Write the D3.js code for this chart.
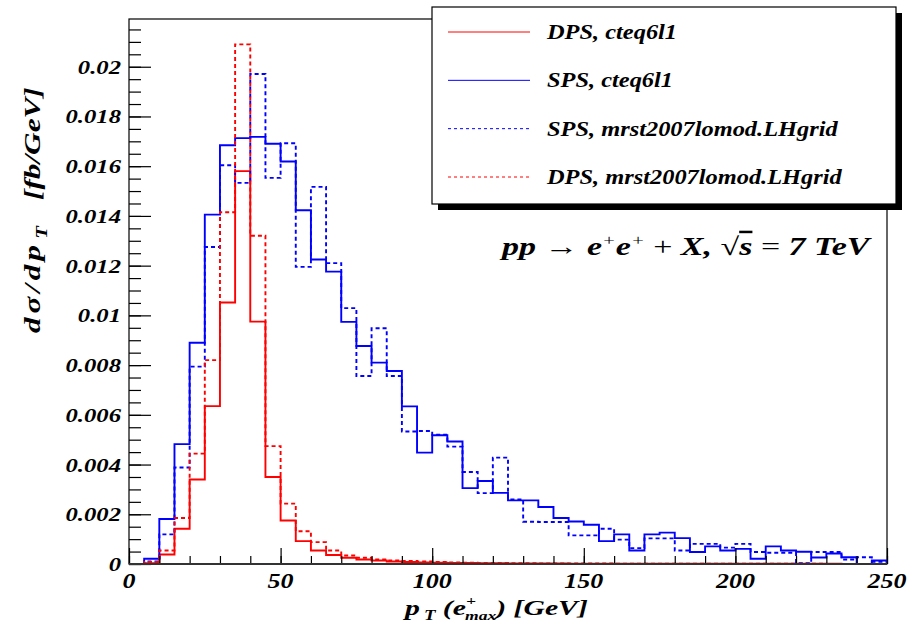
<!DOCTYPE html>
<html>
<head>
<meta charset="utf-8">
<script src="https://cdn.jsdelivr.net/npm/d3@7"></script>
<style>
  body { margin: 0; background: #fff; }
  text { font-family: "Liberation Serif", "DejaVu Serif", serif; font-weight: bold; font-style: italic; fill: #000; }
</style>
</head>
<body>
<div id="chart"></div>
<script>
// bin low edges [GeV], 5 GeV wide
const binLow = [0, 5, 10, 15, 20, 25, 30, 35, 40, 45, 50, 55, 60, 65, 70, 75, 80, 85, 90, 95,
  100, 105, 110, 115, 120, 125, 130, 135, 140, 145, 150, 155, 160, 165, 170, 175, 180, 185, 190, 195,
  200, 205, 210, 215, 220, 225, 230, 235, 240, 245];
const binWidth = 5;

const dpsCteq = [0, 0.00003, 0.00038, 0.00142, 0.0034, 0.00635, 0.01052, 0.0158, 0.00975, 0.0035,
  0.00175, 0.00092, 0.00054, 0.00036, 0.00025, 0.00018, 0.00014, 0.0001, 0.00008, 0.00006,
  0.00005, 0.00004, 0.00004, 0.00003, 0.00003, 0.00002, 0.00002, 0.00002, 0.00002, 0.00001,
  0.00001, 0.00001, 0.00001, 0.00001, 0.00001, 0.00001, 0.00001, 0.00001, 0.00001, 0.00001,
  0.00001, 0.00001, 0.00001, 0.00001, 0.00001, 0.00001, 0.00001, 0, 0, 0];

const spsCteq = [0, 0.00021, 0.00181, 0.00482, 0.0089, 0.01405, 0.01684, 0.01713, 0.01718, 0.0169,
  0.01619, 0.01423, 0.01225, 0.01176, 0.00974, 0.00877, 0.0081, 0.00776, 0.00634, 0.00448,
  0.00518, 0.00493, 0.00305, 0.00334, 0.00286, 0.00256, 0.00256, 0.00229, 0.00185, 0.00171,
  0.00158, 0.00092, 0.00119, 0.00054, 0.00119, 0.00126, 0.00104, 0.00048, 0.00071, 0.00054,
  0.00061, 0.00021, 0.00071, 0.00054, 0.00049, 0.00026, 0.00042, 0.00027, 0, 0.00014];

const spsMrst = [0, 0.0001, 0.00119, 0.00388, 0.00794, 0.01275, 0.01604, 0.01533, 0.01971, 0.01553,
  0.01692, 0.01195, 0.01517, 0.0121, 0.01029, 0.00756, 0.00948, 0.00756, 0.00533, 0.00535,
  0.0052, 0.00472, 0.0037, 0.00285, 0.00428, 0.0026, 0.0017, 0.00169, 0.00169, 0.00115,
  0.00115, 0.00142, 0.00098, 0.00064, 0.00103, 0.00103, 0.00054, 0.00081, 0.00081, 0.00066,
  0.00081, 0.00048, 0.00045, 0.00045, 0.00003, 0.00048, 0.00048, 0.00018, 0.00027, 0.00009];

const dpsMrst = [0, 0.00008, 0.00054, 0.00185, 0.00444, 0.0082, 0.01415, 0.0209, 0.0132, 0.00474,
  0.00243, 0.00132, 0.00088, 0.00054, 0.00034, 0.00025, 0.00018, 0.00014, 0.00012, 0.0001,
  0.00008, 0.00006, 0.00005, 0.00004, 0.00004, 0.00003, 0.00003, 0.00002, 0.00002, 0.00002,
  0.00002, 0.00002, 0.00001, 0.00001, 0.00001, 0.00001, 0.00001, 0.00001, 0.00001, 0.00001,
  0.00001, 0.00001, 0.00001, 0.00001, 0.00001, 0.00001, 0, 0, 0, 0];

const xTickValues = [0, 50, 100, 150, 200, 250];
const xTickLabels = ["0", "50", "100", "150", "200", "250"];
const yTickValues = [0, 0.002, 0.004, 0.006, 0.008, 0.01, 0.012, 0.014, 0.016, 0.018, 0.02];
const yTickLabels = ["0", "0.002", "0.004", "0.006", "0.008", "0.01", "0.012", "0.014", "0.016", "0.018", "0.02"];

const legendLabels = ["DPS, cteq6l1", "SPS, cteq6l1", "SPS, mrst2007lomod.LHgrid", "DPS, mrst2007lomod.LHgrid"];

const width = 921, height = 622;
const padL = 129, padR = 887, padT = 19, padB = 564;
const stretch = 1.3;

const svg = d3.select("#chart").append("svg")
  .attr("width", width)
  .attr("height", height);

let x = d3.scaleLinear().domain([0, 250]).range([padL, padR]);
let y = d3.scaleLinear().domain([0, 0.02192]).range([padB, padT]);

// frame
svg.append("rect")
  .attr("x", padL).attr("y", padT)
  .attr("width", padR - padL).attr("height", padB - padT)
  .attr("fill", "none").attr("stroke", "#000").attr("stroke-width", 1.2);

// histograms
const series = [
  { values: dpsCteq, color: "#ff0000", dash: null },
  { values: spsCteq, color: "#0000ff", dash: null },
  { values: spsMrst, color: "#0000ff", dash: "4,3" },
  { values: dpsMrst, color: "#ff0000", dash: "4,3" }
];

const step = d3.line()
  .x(d => x(d[0]))
  .y(d => y(d[1]))
  .curve(d3.curveStepAfter);

series.forEach(s => {
  let pts = binLow.map((b, i) => [b, s.values[i]]);
  pts.push([binLow[binLow.length - 1] + binWidth, s.values[s.values.length - 1]]);
  svg.append("path")
    .attr("d", step(pts))
    .attr("fill", "none")
    .attr("stroke", s.color)
    .attr("stroke-width", 1.9)
    .attr("stroke-dasharray", s.dash);
});

// y axis ticks (inside)
let yMinor = svg.append("g")
  .attr("transform", "translate(" + padL + ",0)")
  .call(d3.axisRight(y).ticks(44).tickSize(12).tickFormat(""));
let yMajor = svg.append("g")
  .attr("transform", "translate(" + padL + ",0)")
  .call(d3.axisRight(y).tickValues(yTickValues).tickSize(22).tickFormat(""));
[yMinor, yMajor].forEach(g => {
  g.select(".domain").remove();
  g.selectAll("line").attr("stroke", "#000").attr("stroke-width", 1.2);
});

svg.append("g").selectAll("text")
  .data(yTickValues)
  .enter().append("text")
  .attr("transform", d => "translate(" + (padL - 8) + "," + (y(d) + 7) + ") scale(" + stretch + ",1)")
  .attr("text-anchor", "end")
  .attr("font-size", 19)
  .text((d, i) => yTickLabels[i]);

// x axis ticks (inside)
let xMinor = svg.append("g")
  .attr("transform", "translate(0," + padB + ")")
  .call(d3.axisTop(x).ticks(25).tickSize(8).tickFormat(""));
let xMajor = svg.append("g")
  .attr("transform", "translate(0," + padB + ")")
  .call(d3.axisTop(x).tickValues(xTickValues).tickSize(16).tickFormat(""));
[xMinor, xMajor].forEach(g => {
  g.select(".domain").remove();
  g.selectAll("line").attr("stroke", "#000").attr("stroke-width", 1.2);
});
svg.append("line")
  .attr("x1", padL).attr("x2", padR)
  .attr("y1", padB).attr("y2", padB)
  .attr("stroke", "#333").attr("stroke-width", 2);

svg.append("g").selectAll("text")
  .data(xTickValues)
  .enter().append("text")
  .attr("transform", d => "translate(" + x(d) + "," + (padB + 24) + ") scale(" + stretch + ",1)")
  .attr("text-anchor", "middle")
  .attr("font-size", 20)
  .text((d, i) => xTickLabels[i]);

// x title
let xt = svg.append("text")
  .attr("transform", "translate(405,615) scale(1.35,1)")
  .attr("font-size", 22);
xt.append("tspan").text("p");
xt.append("tspan").attr("font-size", 14).attr("dy", 5).attr("dx", 3).text("T");
xt.append("tspan").attr("dy", -5).text(" (e");
xt.append("tspan").attr("font-size", 13).attr("dy", -10).text("+");
xt.append("tspan").attr("font-size", 13).attr("dy", 15).attr("dx", -8).text("max");
xt.append("tspan").attr("dy", -5).text(") [GeV]");

// y title
let yt = svg.append("text")
  .attr("transform", "translate(40,333) rotate(-90) scale(1.3,1)")
  .attr("font-size", 24);
yt.append("tspan").attr("letter-spacing", 3).text("d\u03c3/dp");
yt.append("tspan").attr("font-size", 16).attr("dy", 7).attr("dx", 2).text("T");
yt.append("tspan").attr("dy", -7).attr("dx", 20).text("[fb/GeV]");

// annotation
let ann = svg.append("text")
  .attr("transform", "translate(502,255) scale(1.36,1)")
  .attr("font-size", 25);
ann.append("tspan").text("pp ");
ann.append("tspan").attr("font-weight", "normal").attr("font-style", "normal").text("\u2192");
ann.append("tspan").text(" e");
ann.append("tspan").attr("font-size", 15).attr("dy", -10).attr("font-weight", "normal").text("+");
ann.append("tspan").attr("dy", 10).text("e");
ann.append("tspan").attr("font-size", 15).attr("dy", -10).attr("font-weight", "normal").text("+");
ann.append("tspan").attr("dy", 10).attr("font-weight", "normal").attr("font-style", "normal").text(" + ");
ann.append("tspan").text("X,  ");
ann.append("tspan").attr("font-weight", "normal").attr("font-style", "normal").text("\u221a");
ann.append("tspan").attr("text-decoration", "overline").text("s");
ann.append("tspan").attr("font-weight", "normal").attr("font-style", "normal").text(" = ");
ann.append("tspan").text("7 TeV");

// legend
const legX = 432, legY = 7, legW = 464, legH = 197;
svg.append("rect")
  .attr("x", legX + 6).attr("y", legY + 6)
  .attr("width", legW).attr("height", legH)
  .attr("fill", "#000");
svg.append("rect")
  .attr("x", legX).attr("y", legY)
  .attr("width", legW).attr("height", legH)
  .attr("fill", "#fff").attr("stroke", "#000").attr("stroke-width", 1.2);

let rowY = d3.scalePoint().domain(d3.range(legendLabels.length)).range([32, 177]);
let leg = svg.append("g").selectAll("g")
  .data(series.map((s, i) => ({ s: s, label: legendLabels[i] })))
  .enter().append("g")
  .attr("transform", (d, i) => "translate(0," + rowY(i) + ")");
leg.append("line")
  .attr("x1", 448).attr("x2", 530)
  .attr("stroke", d => d.s.color)
  .attr("stroke-width", 1)
  .attr("stroke-dasharray", d => d.s.dash ? "3,3" : null);
leg.append("text")
  .attr("transform", "translate(547,7) scale(1.22,1)")
  .attr("font-size", 20)
  .text(d => d.label);
</script>
</body>
</html>
